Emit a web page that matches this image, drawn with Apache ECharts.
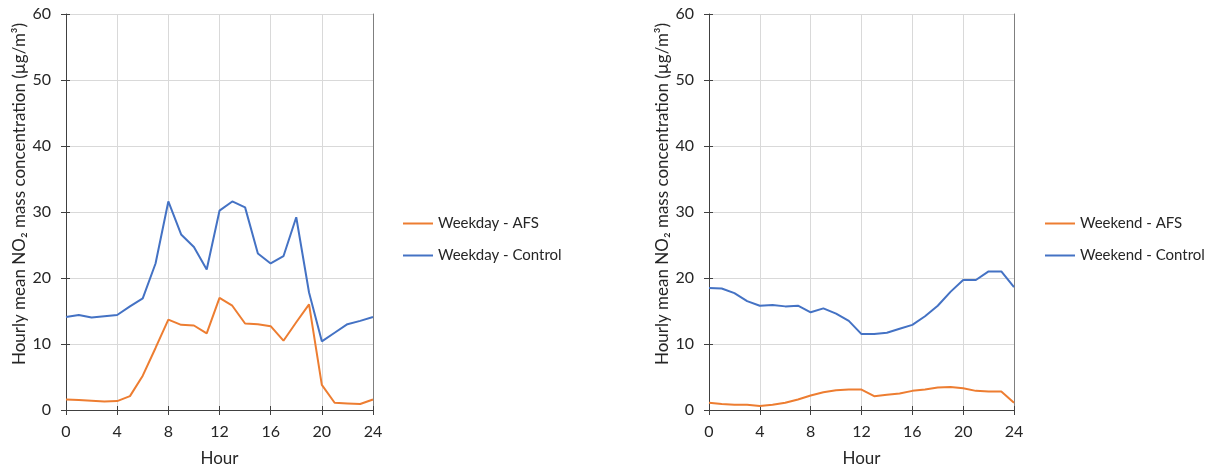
<!DOCTYPE html>
<html>
<head>
<meta charset="utf-8">
<script src="https://cdn.jsdelivr.net/npm/echarts@6/dist/echarts.min.js"></script>
<style>
  html, body { margin: 0; padding: 0; background: #fff; }
  #chart { width: 1213px; height: 468px; }
</style>
</head>
<body>
<div id="chart"></div>
<script>
// Hours of the day (0–24)
const hours = [0,1,2,3,4,5,6,7,8,9,10,11,12,13,14,15,16,17,18,19,20,21,22,23,24];

// Hourly mean NO2 (µg/m³), weekdays
const weekdayAFS = [1.6,1.5,1.4,1.3,1.35,2.1,5.2,9.4,13.7,12.9,12.8,11.6,17.0,15.8,13.1,13.0,12.7,10.5,13.3,16.0,3.8,1.1,1.0,0.9,1.6];
const weekdayControl = [14.1,14.4,14.0,14.2,14.4,15.7,16.9,22.2,31.6,26.6,24.7,21.3,30.2,31.6,30.7,23.7,22.2,23.3,29.2,17.8,10.4,11.7,13.0,13.5,14.1];

// Hourly mean NO2 (µg/m³), weekends
const weekendAFS = [1.1,0.9,0.8,0.8,0.6,0.8,1.1,1.6,2.2,2.7,3.0,3.1,3.1,2.1,2.3,2.5,2.9,3.1,3.4,3.5,3.3,2.9,2.8,2.8,1.1];
const weekendControl = [18.5,18.4,17.7,16.5,15.8,15.9,15.7,15.8,14.8,15.4,14.6,13.5,11.5,11.5,11.7,12.3,12.9,14.2,15.8,17.9,19.7,19.7,21.0,21.0,18.6];

const xTicks = { min: 0, max: 24, interval: 4 };
const yTicks = { min: 0, max: 60, interval: 10 };

const FONT = 'Lato, "Open Sans", sans-serif';
const TEXT_COLOR = '#262626';
const AXIS_COLOR = '#404040';
const GRID_COLOR = '#d9d9d9';
const ORANGE = '#ED7D31';
const BLUE = '#4472C4';
const Y_TITLE = 'Hourly mean NO\u2082 mass concentration (\u00b5g/m\u00b3)';

const pairs = vals => hours.map((h, i) => [h, vals[i]]);

const grids = [
  { left: 66, top: 14, width: 307, height: 396, outerBoundsMode: 'none', containLabel: false },
  { left: 709, top: 14, width: 305, height: 396, outerBoundsMode: 'none', containLabel: false }
];

function xAxesFor(gi) {
  return [
    {
      type: 'value', gridIndex: gi, ...xTicks,
      axisLine: { show: true, lineStyle: { color: AXIS_COLOR, width: 1 } },
      axisTick: { show: true, length: 5, lineStyle: { color: AXIS_COLOR } },
      axisLabel: { color: TEXT_COLOR, fontFamily: FONT, fontSize: 16, margin: 14 },
      splitLine: { show: true, lineStyle: { color: GRID_COLOR, width: 1 } },
      name: 'Hour', nameLocation: 'middle', nameGap: 40,
      nameTextStyle: { color: TEXT_COLOR, fontFamily: FONT, fontSize: 17 }
    },
    {
      type: 'value', gridIndex: gi, ...xTicks, position: 'bottom',
      axisLine: { show: false },
      axisTick: { show: true, inside: true, length: 4, lineStyle: { color: AXIS_COLOR } },
      axisLabel: { show: false }, splitLine: { show: false }
    }
  ];
}

function yAxesFor(gi) {
  return [
    {
      type: 'value', gridIndex: gi, ...yTicks,
      axisLine: { show: true, lineStyle: { color: AXIS_COLOR, width: 1 } },
      axisTick: { show: true, length: 5, lineStyle: { color: AXIS_COLOR } },
      axisLabel: { color: TEXT_COLOR, fontFamily: FONT, fontSize: 16, margin: 15 },
      splitLine: { show: true, lineStyle: { color: GRID_COLOR, width: 1 } }
    },
    {
      type: 'value', gridIndex: gi, ...yTicks, position: 'left',
      axisLine: { show: false },
      axisTick: { show: true, inside: true, length: 4, lineStyle: { color: AXIS_COLOR } },
      axisLabel: { show: false }, splitLine: { show: false }
    },
    {
      type: 'value', gridIndex: gi, ...yTicks, position: 'right',
      axisLine: { show: true, lineStyle: { color: '#7f7f7f', width: 1 } },
      axisTick: { show: false }, axisLabel: { show: false }, splitLine: { show: false }
    }
  ];
}

function lineSeries(name, color, vals, gi) {
  return {
    type: 'line', name, data: pairs(vals),
    xAxisIndex: gi * 2, yAxisIndex: gi * 3,
    showSymbol: false, symbol: 'none',
    lineStyle: { color, width: 2 }, itemStyle: { color },
    emphasis: { disabled: true }, animation: false
  };
}

const legendBase = {
  orient: 'vertical', icon: 'rect', itemWidth: 30, itemHeight: 2, itemGap: 17,
  padding: 0,
  textStyle: { color: TEXT_COLOR, fontFamily: FONT, fontSize: 15 }
};

function yTitle(x) {
  return {
    type: 'text', x, y: 194, rotation: Math.PI / 2,
    style: { text: Y_TITLE, fill: TEXT_COLOR, font: '17px ' + FONT, align: 'center', verticalAlign: 'middle' }
  };
}

const option = {
  backgroundColor: '#ffffff',
  animation: false,
  grid: grids,
  xAxis: [...xAxesFor(0), ...xAxesFor(1)],
  yAxis: [...yAxesFor(0), ...yAxesFor(1)],
  legend: [
    { ...legendBase, left: 403, top: 216, data: ['Weekday - AFS', 'Weekday - Control'] },
    { ...legendBase, left: 1045, top: 216, data: ['Weekend - AFS', 'Weekend - Control'] }
  ],
  graphic: [yTitle(20), yTitle(663)],
  series: [
    lineSeries('Weekday - AFS', ORANGE, weekdayAFS, 0),
    lineSeries('Weekday - Control', BLUE, weekdayControl, 0),
    lineSeries('Weekend - AFS', ORANGE, weekendAFS, 1),
    lineSeries('Weekend - Control', BLUE, weekendControl, 1)
  ]
};

const chart = echarts.init(document.getElementById('chart'), null, { renderer: 'canvas' });
chart.setOption(option);
</script>
</body>
</html>
